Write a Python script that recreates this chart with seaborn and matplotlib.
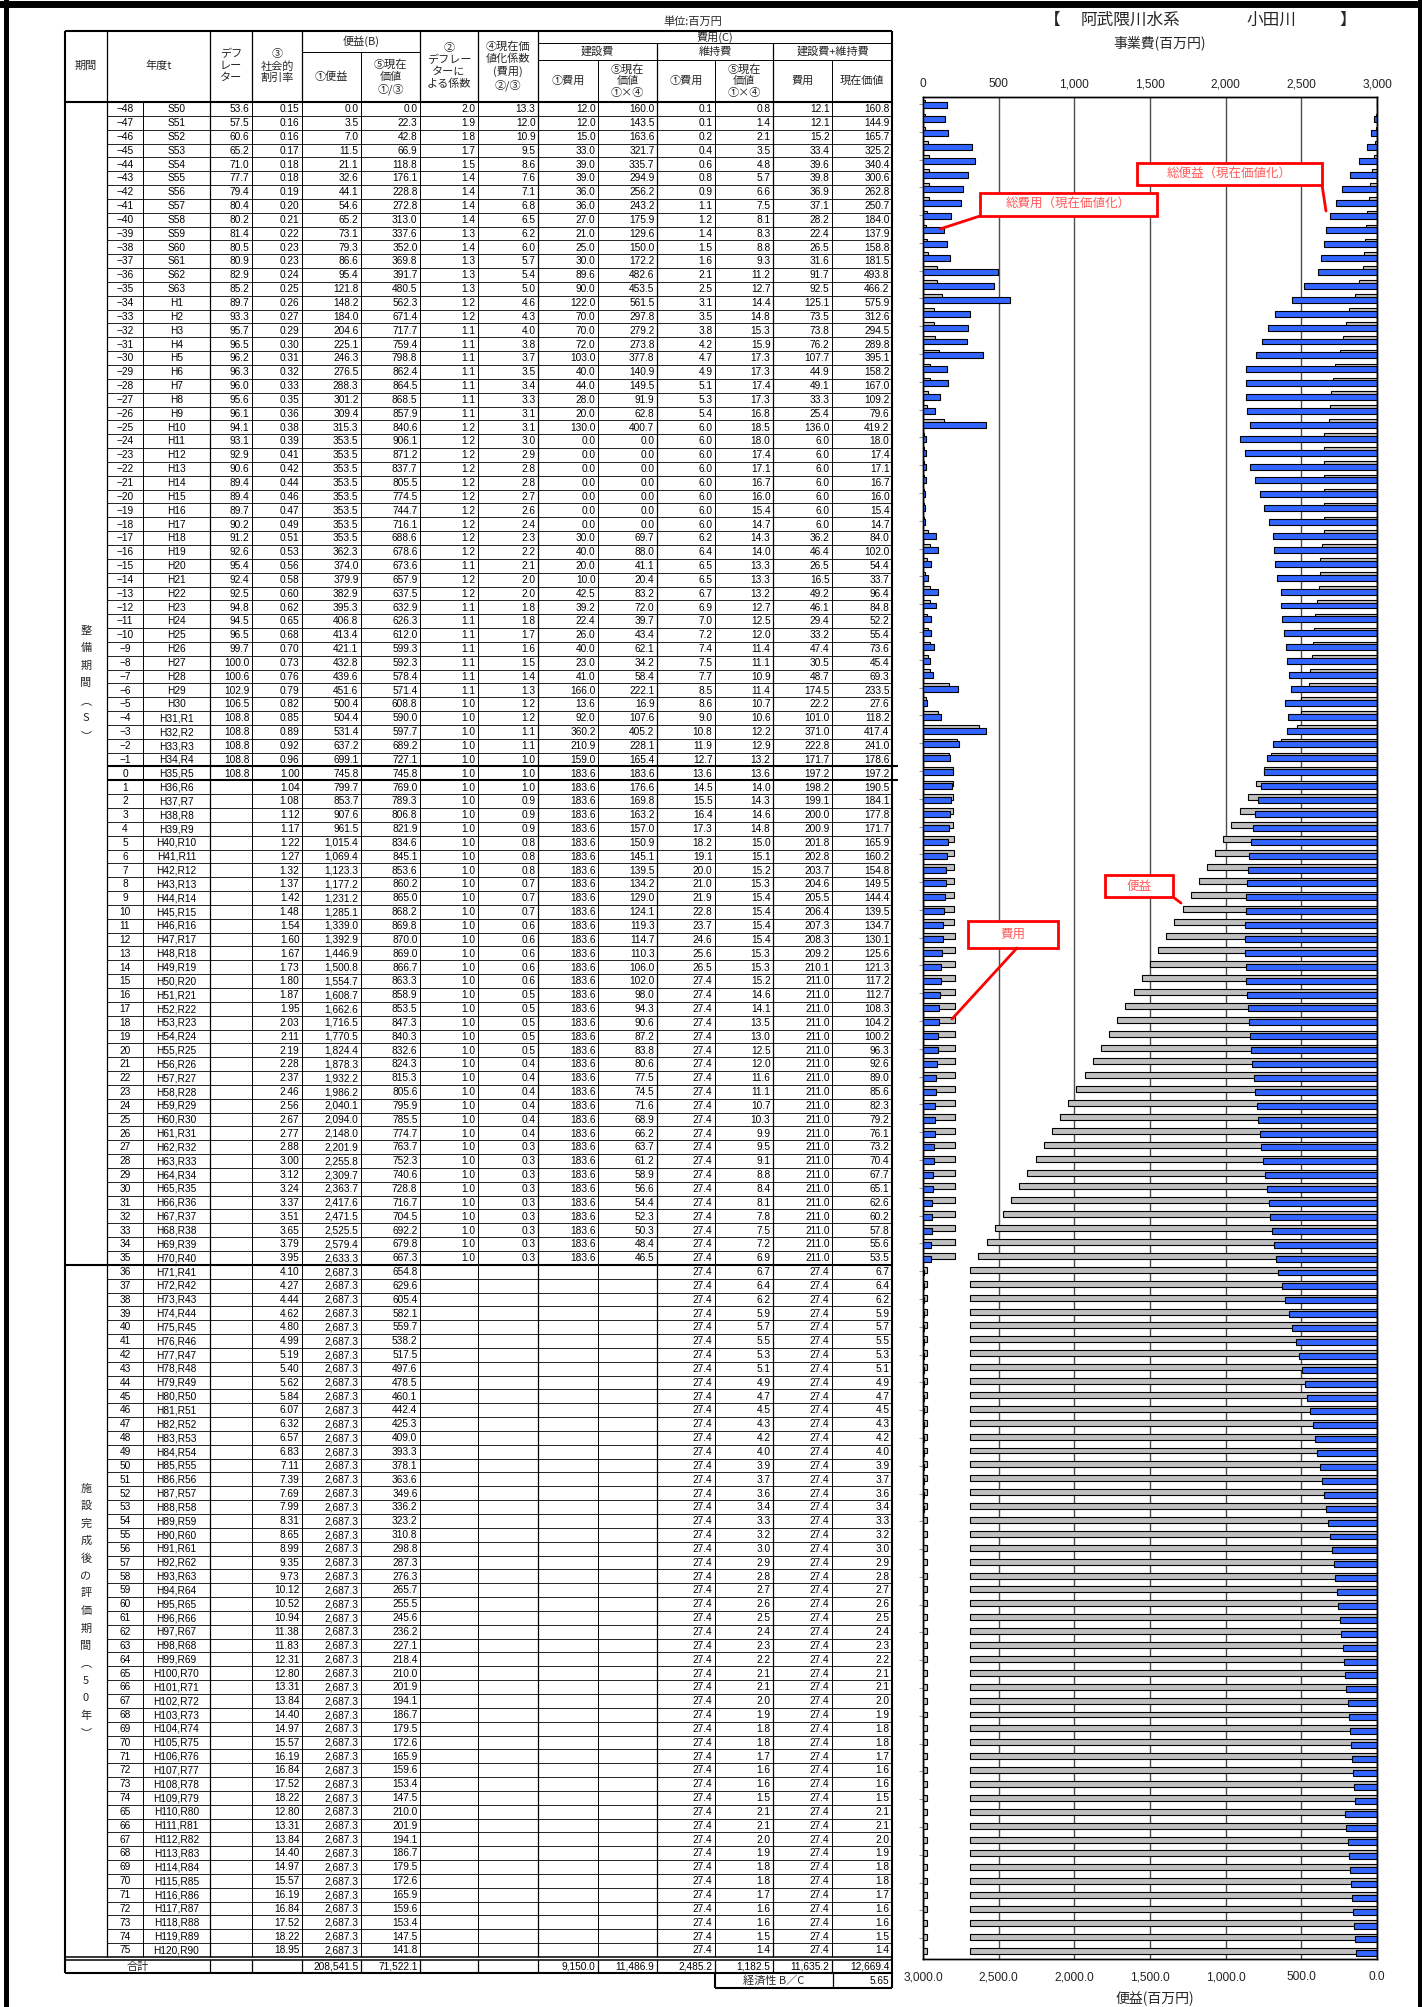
"""
Cost-benefit table (小田川, 阿武隈川水系) with the benefit/cost bar chart on the right.
Writes out.png (1422x2007 px).
"""

import numpy as np
import matplotlib
matplotlib.use("Agg")
import matplotlib.pyplot as plt
import seaborn as sns
from matplotlib import font_manager
from matplotlib.patches import Rectangle

# ---------------------------------------------------------------- data
t_years = [
    -48, -47, -46, -45, -44, -43, -42, -41, -40, -39, -38, -37, -36, -35, -34, -33,
    -32, -31, -30, -29, -28, -27, -26, -25, -24, -23, -22, -21, -20, -19, -18, -17,
    -16, -15, -14, -13, -12, -11, -10, -9, -8, -7, -6, -5, -4, -3, -2, -1,
    0, 1, 2, 3, 4, 5, 6, 7, 8, 9, 10, 11, 12, 13, 14, 15, 16, 17, 18, 19, 20,
    21, 22, 23, 24, 25, 26, 27, 28, 29, 30, 31, 32, 33, 34, 35, 36, 37, 38, 39, 40,
    41, 42, 43, 44, 45, 46, 47, 48, 49, 50, 51, 52, 53, 54, 55, 56, 57, 58, 59, 60,
    61, 62, 63, 64, 65, 66, 67, 68, 69, 70, 71, 72, 73, 74,
    65, 66, 67, 68, 69, 70, 71, 72, 73, 74, 75,
]
era_labels = [
    "S50", "S51", "S52", "S53", "S54", "S55", "S56", "S57", "S58", "S59", "S60", "S61", "S62", "S63",
    "H1", "H2", "H3", "H4", "H5", "H6", "H7", "H8", "H9", "H10", "H11", "H12", "H13", "H14", "H15",
    "H16", "H17", "H18", "H19", "H20", "H21", "H22", "H23", "H24", "H25", "H26", "H27", "H28", "H29", "H30",
    "H31,R1", "H32,R2", "H33,R3", "H34,R4", "H35,R5",
    "H36,R6", "H37,R7", "H38,R8", "H39,R9", "H40,R10", "H41,R11", "H42,R12", "H43,R13", "H44,R14", "H45,R15",
    "H46,R16", "H47,R17", "H48,R18", "H49,R19", "H50,R20", "H51,R21", "H52,R22", "H53,R23", "H54,R24", "H55,R25",
    "H56,R26", "H57,R27", "H58,R28", "H59,R29", "H60,R30", "H61,R31", "H62,R32", "H63,R33", "H64,R34", "H65,R35",
    "H66,R36", "H67,R37", "H68,R38", "H69,R39", "H70,R40", "H71,R41", "H72,R42", "H73,R43", "H74,R44", "H75,R45",
    "H76,R46", "H77,R47", "H78,R48", "H79,R49", "H80,R50", "H81,R51", "H82,R52", "H83,R53", "H84,R54", "H85,R55",
    "H86,R56", "H87,R57", "H88,R58", "H89,R59", "H90,R60", "H91,R61", "H92,R62", "H93,R63", "H94,R64", "H95,R65",
    "H96,R66", "H97,R67", "H98,R68", "H99,R69", "H100,R70", "H101,R71", "H102,R72", "H103,R73", "H104,R74", "H105,R75",
    "H106,R76", "H107,R77", "H108,R78", "H109,R79",
    "H110,R80", "H111,R81", "H112,R82", "H113,R83", "H114,R84", "H115,R85", "H116,R86", "H117,R87",
    "H118,R88", "H119,R89", "H120,R90",
]

# デフレーター (only filled up to t=0)
deflator = [
    53.6, 57.5, 60.6, 65.2, 71.0, 77.7, 79.4, 80.4, 80.2, 81.4, 80.5, 80.9, 82.9, 85.2,
    89.7, 93.3, 95.7, 96.5, 96.2, 96.3, 96.0, 95.6, 96.1, 94.1, 93.1, 92.9, 90.6, 89.4,
    89.4, 89.7, 90.2, 91.2, 92.6, 95.4, 92.4, 92.5, 94.8, 94.5, 96.5, 99.7, 100.0, 100.6,
    102.9, 106.5, 108.8, 108.8, 108.8, 108.8, 108.8,
]
# ③ 社会的割引率
discount = [
    0.15, 0.16, 0.16, 0.17, 0.18, 0.18, 0.19, 0.20, 0.21, 0.22, 0.23, 0.23, 0.24, 0.25,
    0.26, 0.27, 0.29, 0.30, 0.31, 0.32, 0.33, 0.35, 0.36, 0.38, 0.39, 0.41, 0.42, 0.44,
    0.46, 0.47, 0.49, 0.51, 0.53, 0.56, 0.58, 0.60, 0.62, 0.65, 0.68, 0.70, 0.73, 0.76,
    0.79, 0.82, 0.85, 0.89, 0.92, 0.96,
    1.00,
    1.04, 1.08, 1.12, 1.17, 1.22, 1.27, 1.32, 1.37, 1.42, 1.48, 1.54, 1.60, 1.67, 1.73,
    1.80, 1.87, 1.95, 2.03, 2.11, 2.19, 2.28, 2.37, 2.46, 2.56, 2.67, 2.77, 2.88, 3.00,
    3.12, 3.24, 3.37, 3.51, 3.65, 3.79, 3.95,
    4.10, 4.27, 4.44, 4.62, 4.80, 4.99, 5.19, 5.40, 5.62, 5.84, 6.07, 6.32, 6.57, 6.83,
    7.11, 7.39, 7.69, 7.99, 8.31, 8.65, 8.99, 9.35, 9.73, 10.12, 10.52, 10.94, 11.38,
    11.83, 12.31, 12.80, 13.31, 13.84, 14.40, 14.97, 15.57, 16.19, 16.84, 17.52, 18.22,
    12.80, 13.31, 13.84, 14.40, 14.97, 15.57, 16.19, 16.84, 17.52, 18.22, 18.95,
]
# 便益 ①便益
benefit = [
    0.0, 3.5, 7.0, 11.5, 21.1, 32.6, 44.1, 54.6, 65.2, 73.1, 79.3, 86.6, 95.4, 121.8,
    148.2, 184.0, 204.6, 225.1, 246.3, 276.5, 288.3, 301.2, 309.4, 315.3, 353.5, 353.5,
    353.5, 353.5, 353.5, 353.5, 353.5, 353.5, 362.3, 374.0, 379.9, 382.9, 395.3, 406.8,
    413.4, 421.1, 432.8, 439.6, 451.6, 500.4, 504.4, 531.4, 637.2, 699.1,
    745.8,
    799.7, 853.7, 907.6, 961.5, 1015.4, 1069.4, 1123.3, 1177.2, 1231.2, 1285.1, 1339.0,
    1392.9, 1446.9, 1500.8, 1554.7, 1608.7, 1662.6, 1716.5, 1770.5, 1824.4, 1878.3,
    1932.2, 1986.2, 2040.1, 2094.0, 2148.0, 2201.9, 2255.8, 2309.7, 2363.7, 2417.6,
    2471.5, 2525.5, 2579.4, 2633.3,
    2687.3, 2687.3, 2687.3, 2687.3, 2687.3, 2687.3, 2687.3, 2687.3, 2687.3, 2687.3,
    2687.3, 2687.3, 2687.3, 2687.3, 2687.3, 2687.3, 2687.3, 2687.3, 2687.3, 2687.3,
    2687.3, 2687.3, 2687.3, 2687.3, 2687.3, 2687.3, 2687.3, 2687.3, 2687.3, 2687.3,
    2687.3, 2687.3, 2687.3, 2687.3, 2687.3, 2687.3, 2687.3, 2687.3, 2687.3, 2687.3,
    2687.3, 2687.3, 2687.3, 2687.3, 2687.3, 2687.3, 2687.3, 2687.3, 2687.3, 2687.3,
]
# 便益 ⑤現在価値
benefit_pv = [
    0.0, 22.3, 42.8, 66.9, 118.8, 176.1, 228.8, 272.8, 313.0, 337.6, 352.0, 369.8, 391.7,
    480.5, 562.3, 671.4, 717.7, 759.4, 798.8, 862.4, 864.5, 868.5, 857.9, 840.6, 906.1,
    871.2, 837.7, 805.5, 774.5, 744.7, 716.1, 688.6, 678.6, 673.6, 657.9, 637.5, 632.9,
    626.3, 612.0, 599.3, 592.3, 578.4, 571.4, 608.8, 590.0, 597.7, 689.2, 727.1,
    745.8,
    769.0, 789.3, 806.8, 821.9, 834.6, 845.1, 853.6, 860.2, 865.0, 868.2, 869.8, 870.0,
    869.0, 866.7, 863.3, 858.9, 853.5, 847.3, 840.3, 832.6, 824.3, 815.3, 805.6, 795.9,
    785.5, 774.7, 763.7, 752.3, 740.6, 728.8, 716.7, 704.5, 692.2, 679.8, 667.3,
    654.8, 629.6, 605.4, 582.1, 559.7, 538.2, 517.5, 497.6, 478.5, 460.1, 442.4, 425.3,
    409.0, 393.3, 378.1, 363.6, 349.6, 336.2, 323.2, 310.8, 298.8, 287.3, 276.3, 265.7,
    255.5, 245.6, 236.2, 227.1, 218.4, 210.0, 201.9, 194.1, 186.7, 179.5, 172.6, 165.9,
    159.6, 153.4, 147.5,
    210.0, 201.9, 194.1, 186.7, 179.5, 172.6, 165.9, 159.6, 153.4, 147.5, 141.8,
]
# ② デフレーターによる係数 (t<=35)
deflator_coef = [
    2.0, 1.9, 1.8, 1.7, 1.5, 1.4, 1.4, 1.4, 1.4, 1.3, 1.4, 1.3, 1.3, 1.3, 1.2, 1.2, 1.1,
    1.1, 1.1, 1.1, 1.1, 1.1, 1.1, 1.2, 1.2, 1.2, 1.2, 1.2, 1.2, 1.2, 1.2, 1.2, 1.2, 1.1,
    1.2, 1.2, 1.1, 1.1, 1.1, 1.1, 1.1, 1.1, 1.1, 1.0, 1.0, 1.0, 1.0, 1.0, 1.0,
    1.0, 1.0, 1.0, 1.0, 1.0, 1.0, 1.0, 1.0, 1.0, 1.0, 1.0, 1.0, 1.0, 1.0, 1.0, 1.0, 1.0,
    1.0, 1.0, 1.0, 1.0, 1.0, 1.0, 1.0, 1.0, 1.0, 1.0, 1.0, 1.0, 1.0, 1.0, 1.0, 1.0, 1.0,
    1.0,
]
# ④ 現在価値化係数(費用)
pv_coef = [
    13.3, 12.0, 10.9, 9.5, 8.6, 7.6, 7.1, 6.8, 6.5, 6.2, 6.0, 5.7, 5.4, 5.0, 4.6, 4.3,
    4.0, 3.8, 3.7, 3.5, 3.4, 3.3, 3.1, 3.1, 3.0, 2.9, 2.8, 2.8, 2.7, 2.6, 2.4, 2.3, 2.2,
    2.1, 2.0, 2.0, 1.8, 1.8, 1.7, 1.6, 1.5, 1.4, 1.3, 1.2, 1.2, 1.1, 1.1, 1.0, 1.0,
    1.0, 0.9, 0.9, 0.9, 0.8, 0.8, 0.8, 0.7, 0.7, 0.7, 0.6, 0.6, 0.6, 0.6, 0.6, 0.5, 0.5,
    0.5, 0.5, 0.5, 0.4, 0.4, 0.4, 0.4, 0.4, 0.4, 0.3, 0.3, 0.3, 0.3, 0.3, 0.3, 0.3, 0.3,
    0.3,
]
# 建設費 ①費用 / ⑤現在価値
construction = [
    12.0, 12.0, 15.0, 33.0, 39.0, 39.0, 36.0, 36.0, 27.0, 21.0, 25.0, 30.0, 89.6, 90.0,
    122.0, 70.0, 70.0, 72.0, 103.0, 40.0, 44.0, 28.0, 20.0, 130.0, 0.0, 0.0, 0.0, 0.0,
    0.0, 0.0, 0.0, 30.0, 40.0, 20.0, 10.0, 42.5, 39.2, 22.4, 26.0, 40.0, 23.0, 41.0,
    166.0, 13.6, 92.0, 360.2, 210.9, 159.0, 183.6,
    183.6, 183.6, 183.6, 183.6, 183.6, 183.6, 183.6, 183.6, 183.6, 183.6, 183.6, 183.6,
    183.6, 183.6, 183.6, 183.6, 183.6, 183.6, 183.6, 183.6, 183.6, 183.6, 183.6, 183.6,
    183.6, 183.6, 183.6, 183.6, 183.6, 183.6, 183.6, 183.6, 183.6, 183.6, 183.6,
]
construction_pv = [
    160.0, 143.5, 163.6, 321.7, 335.7, 294.9, 256.2, 243.2, 175.9, 129.6, 150.0, 172.2,
    482.6, 453.5, 561.5, 297.8, 279.2, 273.8, 377.8, 140.9, 149.5, 91.9, 62.8, 400.7,
    0.0, 0.0, 0.0, 0.0, 0.0, 0.0, 0.0, 69.7, 88.0, 41.1, 20.4, 83.2, 72.0, 39.7, 43.4,
    62.1, 34.2, 58.4, 222.1, 16.9, 107.6, 405.2, 228.1, 165.4, 183.6,
    176.6, 169.8, 163.2, 157.0, 150.9, 145.1, 139.5, 134.2, 129.0, 124.1, 119.3, 114.7,
    110.3, 106.0, 102.0, 98.0, 94.3, 90.6, 87.2, 83.8, 80.6, 77.5, 74.5, 71.6, 68.9,
    66.2, 63.7, 61.2, 58.9, 56.6, 54.4, 52.3, 50.3, 48.4, 46.5,
]
# 維持費 ①費用 / ⑤現在価値
maintenance = [
    0.1, 0.1, 0.2, 0.4, 0.6, 0.8, 0.9, 1.1, 1.2, 1.4, 1.5, 1.6, 2.1, 2.5, 3.1, 3.5, 3.8,
    4.2, 4.7, 4.9, 5.1, 5.3, 5.4, 6.0, 6.0, 6.0, 6.0, 6.0, 6.0, 6.0, 6.0, 6.2, 6.4, 6.5,
    6.5, 6.7, 6.9, 7.0, 7.2, 7.4, 7.5, 7.7, 8.5, 8.6, 9.0, 10.8, 11.9, 12.7, 13.6,
    14.5, 15.5, 16.4, 17.3, 18.2, 19.1, 20.0, 21.0, 21.9, 22.8, 23.7, 24.6, 25.6, 26.5, 27.4,
    27.4, 27.4, 27.4, 27.4, 27.4, 27.4, 27.4, 27.4, 27.4, 27.4,
    27.4, 27.4, 27.4, 27.4, 27.4, 27.4, 27.4, 27.4, 27.4, 27.4,
    27.4, 27.4, 27.4, 27.4, 27.4, 27.4, 27.4, 27.4, 27.4, 27.4,
    27.4, 27.4, 27.4, 27.4, 27.4, 27.4, 27.4, 27.4, 27.4, 27.4,
    27.4, 27.4, 27.4, 27.4, 27.4, 27.4, 27.4, 27.4, 27.4, 27.4,
    27.4, 27.4, 27.4, 27.4, 27.4, 27.4, 27.4, 27.4, 27.4, 27.4,
    27.4, 27.4, 27.4, 27.4, 27.4, 27.4, 27.4, 27.4, 27.4, 27.4,
]
maintenance_pv = [
    0.8, 1.4, 2.1, 3.5, 4.8, 5.7, 6.6, 7.5, 8.1, 8.3, 8.8, 9.3, 11.2, 12.7, 14.4, 14.8,
    15.3, 15.9, 17.3, 17.3, 17.4, 17.3, 16.8, 18.5, 18.0, 17.4, 17.1, 16.7, 16.0, 15.4,
    14.7, 14.3, 14.0, 13.3, 13.3, 13.2, 12.7, 12.5, 12.0, 11.4, 11.1, 10.9, 11.4, 10.7,
    10.6, 12.2, 12.9, 13.2, 13.6,
    14.0, 14.3, 14.6, 14.8, 15.0, 15.1, 15.2, 15.3, 15.4, 15.4, 15.4, 15.4, 15.3, 15.3,
    15.2, 14.6, 14.1, 13.5, 13.0, 12.5, 12.0, 11.6, 11.1, 10.7, 10.3, 9.9, 9.5, 9.1, 8.8,
    8.4, 8.1, 7.8, 7.5, 7.2, 6.9,
    6.7, 6.4, 6.2, 5.9, 5.7, 5.5, 5.3, 5.1, 4.9, 4.7, 4.5, 4.3, 4.2, 4.0, 3.9, 3.7, 3.6,
    3.4, 3.3, 3.2, 3.0, 2.9, 2.8, 2.7, 2.6, 2.5, 2.4, 2.3, 2.2, 2.1, 2.1, 2.0, 1.9, 1.8,
    1.8, 1.7, 1.6, 1.6, 1.5,
    2.1, 2.1, 2.0, 1.9, 1.8, 1.8, 1.7, 1.6, 1.6, 1.5, 1.4,
]
# 建設費+維持費 費用 / 現在価値
total_cost = [
    12.1, 12.1, 15.2, 33.4, 39.6, 39.8, 36.9, 37.1, 28.2, 22.4, 26.5, 31.6, 91.7, 92.5,
    125.1, 73.5, 73.8, 76.2, 107.7, 44.9, 49.1, 33.3, 25.4, 136.0, 6.0, 6.0, 6.0, 6.0,
    6.0, 6.0, 6.0, 36.2, 46.4, 26.5, 16.5, 49.2, 46.1, 29.4, 33.2, 47.4, 30.5, 48.7,
    174.5, 22.2, 101.0, 371.0, 222.8, 171.7, 197.2,
    198.2, 199.1, 200.0, 200.9, 201.8, 202.8, 203.7, 204.6, 205.5, 206.4, 207.3, 208.3,
    209.2, 210.1, 211.0,
    211.0, 211.0, 211.0, 211.0, 211.0, 211.0, 211.0, 211.0, 211.0, 211.0,
    211.0, 211.0, 211.0, 211.0, 211.0, 211.0, 211.0, 211.0, 211.0, 211.0,
    27.4, 27.4, 27.4, 27.4, 27.4, 27.4, 27.4, 27.4, 27.4, 27.4,
    27.4, 27.4, 27.4, 27.4, 27.4, 27.4, 27.4, 27.4, 27.4, 27.4,
    27.4, 27.4, 27.4, 27.4, 27.4, 27.4, 27.4, 27.4, 27.4, 27.4,
    27.4, 27.4, 27.4, 27.4, 27.4, 27.4, 27.4, 27.4, 27.4, 27.4,
    27.4, 27.4, 27.4, 27.4, 27.4, 27.4, 27.4, 27.4, 27.4, 27.4,
]
total_cost_pv = [
    160.8, 144.9, 165.7, 325.2, 340.4, 300.6, 262.8, 250.7, 184.0, 137.9, 158.8, 181.5,
    493.8, 466.2, 575.9, 312.6, 294.5, 289.8, 395.1, 158.2, 167.0, 109.2, 79.6, 419.2,
    18.0, 17.4, 17.1, 16.7, 16.0, 15.4, 14.7, 84.0, 102.0, 54.4, 33.7, 96.4, 84.8, 52.2,
    55.4, 73.6, 45.4, 69.3, 233.5, 27.6, 118.2, 417.4, 241.0, 178.6, 197.2,
    190.5, 184.1, 177.8, 171.7, 165.9, 160.2, 154.8, 149.5, 144.4, 139.5, 134.7, 130.1,
    125.6, 121.3, 117.2, 112.7, 108.3, 104.2, 100.2, 96.3, 92.6, 89.0, 85.6, 82.3, 79.2,
    76.1, 73.2, 70.4, 67.7, 65.1, 62.6, 60.2, 57.8, 55.6, 53.5,
    6.7, 6.4, 6.2, 5.9, 5.7, 5.5, 5.3, 5.1, 4.9, 4.7, 4.5, 4.3, 4.2, 4.0, 3.9, 3.7, 3.6,
    3.4, 3.3, 3.2, 3.0, 2.9, 2.8, 2.7, 2.6, 2.5, 2.4, 2.3, 2.2, 2.1, 2.1, 2.0, 1.9, 1.8,
    1.8, 1.7, 1.6, 1.6, 1.5,
    2.1, 2.1, 2.0, 1.9, 1.8, 1.8, 1.7, 1.6, 1.6, 1.5, 1.4,
]

# 合計 row and B/C
sum_values = {"benefit": 208541.5, "benefit_pv": 71522.1, "construction": 9150.0,
              "construction_pv": 11486.9, "maintenance": 2485.2, "maintenance_pv": 1182.5,
              "total_cost": 11635.2, "total_cost_pv": 12669.4}
bc_ratio = 5.65

axis_ticks = [0, 500, 1000, 1500, 2000, 2500, 3000]

# ---------------------------------------------------------------- style
BLUE = "#3366FF"
GRAY = "#C0C0C0"
RED = "#FF0000"
RED_TEXT = "#FF5A5A"
JP = ["Noto Sans CJK JP", "DejaVu Sans"]

sns.set_style("white")
names = {f.name for f in font_manager.fontManager.ttflist}
NUM_FONT = "Liberation Sans Narrow" if "Liberation Sans Narrow" in names else "Liberation Sans"
NUM_SIZE = 8.2 if NUM_FONT.endswith("Narrow") else 7.3
plt.rcParams["font.family"] = [NUM_FONT, "Noto Sans CJK JP", "DejaVu Sans"]

n_rows = len(t_years)
assert len(era_labels) == n_rows and len(discount) == n_rows and len(benefit) == n_rows

W, H = 1422, 2007
fig = plt.figure(figsize=(W / 100, H / 100), dpi=100)

# ---------------------------------------------------------------- chart
PL, PR, PT, PB = 923, 1377, 97, 1959
ax_b = fig.add_axes([PL / W, 1 - PB / H, (PR - PL) / W, (PB - PT) / H])
pos = np.arange(n_rows, dtype=float)
bar_kw = dict(orient="h", native_scale=True, width=0.43, errorbar=None,
              edgecolor="black", linewidth=0.8)

# benefit side (bottom axis, 3000 -> 0)
sns.barplot(x=benefit, y=pos - 0.095, color=GRAY, ax=ax_b, **bar_kw)
sns.barplot(x=benefit_pv, y=pos + 0.095, color=BLUE, saturation=1, ax=ax_b, **bar_kw)

# cost side (top axis, 0 -> 3000)
ax_c = ax_b.twiny()
sns.barplot(x=total_cost, y=pos - 0.095, color=GRAY, ax=ax_c, **bar_kw)
sns.barplot(x=total_cost_pv, y=pos + 0.095, color=BLUE, saturation=1, ax=ax_c, **bar_kw)

ax_b.set_xlim(3000, 0)
ax_b.set_xticks(axis_ticks)
ax_b.set_xticklabels([f"{v:,.1f}" for v in axis_ticks])
ax_b.grid(axis="x", color="#4d4d4d", lw=1.0)
ax_b.grid(axis="y", visible=False)
ax_b.set_axisbelow(True)
ax_b.set_yticks(pos[::2])
ax_b.set_yticklabels([])
ax_b.tick_params(axis="y", left=True, length=3, color="#999999", width=0.8)
ax_b.tick_params(axis="x", length=0, pad=9, labelsize=8.6, labelcolor="#222222")
ax_b.set_xlabel("")
ax_b.set_ylabel("")

ax_c.set_xlim(0, 3000)
ax_c.set_xticks(axis_ticks)
ax_c.set_xticklabels([f"{v:,}" for v in axis_ticks])
ax_c.tick_params(axis="x", length=0, pad=5, labelsize=8.6, labelcolor="#222222")
ax_c.set_xlabel("")
ax_c.set_ylabel("")
ax_b.set_ylim(n_rows - 0.5, -0.5)
for a in (ax_b, ax_c):
    for s in a.spines.values():
        s.set_color("black")
        s.set_linewidth(1.0)

# ---------------------------------------------------------------- table / overlay (pixel coords)
ax_t = fig.add_axes([0, 0, 1, 1], zorder=10)
ax_t.set_xlim(0, W)
ax_t.set_ylim(H, 0)
ax_t.axis("off")


def hline(y, x0, x1, lw=0.7):
    ax_t.plot([x0, x1], [y, y], color="black", lw=lw, solid_capstyle="butt")


def vline(x, y0, y1, lw=0.7):
    ax_t.plot([x, x], [y0, y1], color="black", lw=lw, solid_capstyle="butt")


X = [65, 107, 143, 210, 252, 302, 361, 420, 478, 538, 598, 657, 715, 773, 832, 892]
TOP, HEAD_BOT, DATA_BOT = 31, 102, 1957
RH = (DATA_BOT - HEAD_BOT) / n_rows
THICK = 1.5

# header lines
hline(TOP, X[0], X[-1], THICK)
hline(52, X[5], X[7])
hline(43, X[9], X[-1])
hline(60, X[9], X[-1])
hline(HEAD_BOT, X[0], X[-1], THICK)
for x in [X[1], X[3], X[4], X[5], X[7], X[8], X[9]]:
    vline(x, TOP, HEAD_BOT, 0.9)
vline(X[0], TOP, 1973, THICK)
vline(X[-1], TOP, 1973, THICK)
vline(X[6], 52, HEAD_BOT)
for x in [X[11], X[13]]:
    vline(x, 43, HEAD_BOT, 0.9)
for x in [X[10], X[12], X[14]]:
    vline(x, 60, HEAD_BOT)

# body lines
for x in X[1:-1]:
    vline(x, HEAD_BOT, DATA_BOT, 0.9 if x in (X[1], X[3], X[9], X[11], X[13]) else 0.7)
for i in range(1, n_rows):
    y = HEAD_BOT + i * RH
    if i == 84:
        hline(y, X[0], X[-1], THICK)
    elif i in (48, 49):
        hline(y, X[1], X[-1] + 6, THICK)
    else:
        hline(y, X[1], X[-1], 0.6)
hline(DATA_BOT, X[0], X[-1], 1.1)
hline(DATA_BOT + 3, X[0], X[-1], 1.1)
hline(1973, X[0], X[-1], THICK)
for x in X[3:-1]:
    vline(x, DATA_BOT + 3, 1973, 0.9)

# 経済性 B/C box
hline(1988, 715, X[-1], THICK)
vline(715, 1973, 1988, THICK)
vline(833, 1973, 1988, 0.9)
vline(X[-1], 1973, 1988, THICK)

# header text
hd = dict(family=JP, fontsize=8, ha="center", va="center", linespacing=1.22)
ax_t.text(693, 22, "単位:百万円", **hd)
ax_t.text(86, 66, "期間", **hd)
ax_t.text(158.5, 66, "年度t", **hd)
ax_t.text(231, 66, "デフ\nレー\nター", **hd)
ax_t.text(277, 66, "③\n社会的\n割引率", **hd)
ax_t.text(361, 41.5, "便益(B)", **hd)
ax_t.text(331.5, 77, "①便益", **hd)
ax_t.text(390.5, 77, "⑤現在\n価値\n①/③", **hd)
ax_t.text(449, 66, "②\nデフレー\nターに\nよる係数", **hd)
ax_t.text(508, 66, "④現在価\n値化係数\n(費用)\n②/③", **hd)
ax_t.text(715, 37, "費用(C)", **hd)
ax_t.text(597.5, 51.5, "建設費", **hd)
ax_t.text(715, 51.5, "維持費", **hd)
ax_t.text(832.5, 51.5, "建設費+維持費", **hd)
ax_t.text(568, 81, "①費用", **hd)
ax_t.text(627.5, 81, "⑤現在\n価値\n①×④", **hd)
ax_t.text(686, 81, "①費用", **hd)
ax_t.text(744, 81, "⑤現在\n価値\n①×④", **hd)
ax_t.text(802.5, 81, "費用", **hd)
ax_t.text(862, 81, "現在価値", **hd)

# vertical 期間 labels
for chars, first, last in [("整備期間︵S︶", 0, 84), ("施設完成後の評価期間︵50年︶", 84, n_rows)]:
    yc = HEAD_BOT + (first + last) / 2 * RH
    step = 17.5
    for k, ch in enumerate(chars):
        ax_t.text(86, yc + (k - (len(chars) - 1) / 2) * step, ch, family=JP,
                  fontsize=8, ha="center", va="center")

# body numbers
columns = [
    (deflator, 3, "{:,.1f}"), (discount, 4, "{:.2f}"), (benefit, 5, "{:,.1f}"),
    (benefit_pv, 6, "{:,.1f}"), (deflator_coef, 7, "{:,.1f}"), (pv_coef, 8, "{:,.1f}"),
    (construction, 9, "{:,.1f}"), (construction_pv, 10, "{:,.1f}"),
    (maintenance, 11, "{:,.1f}"), (maintenance_pv, 12, "{:,.1f}"),
    (total_cost, 13, "{:,.1f}"), (total_cost_pv, 14, "{:,.1f}"),
]
txt = dict(fontsize=NUM_SIZE, va="center", color="black")
for i in range(n_rows):
    y = HEAD_BOT + (i + 0.5) * RH + 0.3
    ax_t.text((X[1] + X[2]) / 2, y, str(t_years[i]).replace("-", "−"), ha="center", **txt)
    ax_t.text((X[2] + X[3]) / 2, y, era_labels[i], ha="center", **txt)
    for values, col, fmt in columns:
        if i < len(values):
            ax_t.text(X[col + 1] - 2.5, y, fmt.format(values[i]), ha="right", **txt)

# 合計 row
ys = (DATA_BOT + 3 + 1973) / 2 + 0.3
ax_t.text((X[0] + X[3]) / 2, ys, "合計", family=JP, fontsize=8, ha="center", va="center")
for key, col in [("benefit", 5), ("benefit_pv", 6), ("construction", 9), ("construction_pv", 10),
                 ("maintenance", 11), ("maintenance_pv", 12), ("total_cost", 13),
                 ("total_cost_pv", 14)]:
    ax_t.text(X[col + 1] - 2.5, ys, f"{sum_values[key]:,.1f}", ha="right", **txt)
ax_t.text(774, 1980.5, "経済性 B／C", family=JP, fontsize=8, ha="center", va="center")
ax_t.text(X[-1] - 2.5, 1981, f"{bc_ratio:.2f}", ha="right", **txt)

# chart titles
ax_t.text(1052, 20, "【", family=JP, fontsize=12, ha="center", va="center")
ax_t.text(1131, 20, "阿武隈川水系", family=JP, fontsize=12, ha="center", va="center")
ax_t.text(1271, 20, "小田川", family=JP, fontsize=12, ha="center", va="center")
ax_t.text(1348, 20, "】", family=JP, fontsize=12, ha="center", va="center")
ax_t.text(1160, 43, "事業費(百万円)", family=JP, fontsize=10, ha="center", va="center")
ax_t.text(1155, 1999, "便益(百万円)", family=JP, fontsize=10, ha="center", va="center")

# red callouts
callouts = [
    ("総便益（現在価値化）", (1137, 163, 1322, 185), [(1322, 185), (1326, 211)]),
    ("総費用（現在価値化）", (980, 193, 1157, 216), [(980, 216), (940, 229)]),
    ("便益", (1105, 875, 1173, 897), [(1173, 897), (1181, 903)]),
    ("費用", (968, 921, 1058, 948), [(1017, 948), (952, 1019)]),
]
for label, (x0, y0, x1, y1), line in callouts:
    ax_t.add_patch(Rectangle((x0, y0), x1 - x0, y1 - y0, facecolor="white",
                             edgecolor=RED, lw=2.0))
    ax_t.text((x0 + x1) / 2, (y0 + y1) / 2, label, family=JP, fontsize=9,
              color=RED_TEXT, ha="center", va="center")
    ax_t.plot([p[0] for p in line], [p[1] for p in line], color=RED, lw=2.0)

# outer frame
ax_t.plot([0, W], [3.5, 3.5], color="black", lw=5)
ax_t.plot([6, 6], [0, H], color="black", lw=3.6)
ax_t.plot([1419.5, 1419.5], [0, H], color="black", lw=3.6)

fig.savefig("out.png", dpi=100)
